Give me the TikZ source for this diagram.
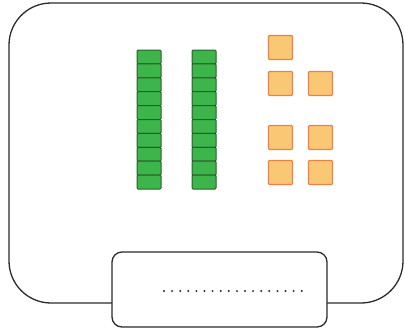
\documentclass[tikz,border=0pt]{standalone}
\usetikzlibrary{calc}
\definecolor{framecolor}{HTML}{2B2B2B}
\definecolor{rodfill}{HTML}{3DB54A}
\definecolor{roddraw}{HTML}{2A5E2B}
\definecolor{unitfill}{HTML}{FAC874}
\definecolor{unitdraw}{HTML}{EE8048}

\begin{document}
\begin{tikzpicture}[
  x=1pt, y=-1pt,
  frame/.style={draw=framecolor, line width=1.3pt},
  rodseg/.style={draw=roddraw, fill=rodfill, line width=1pt,
    minimum width=24pt, minimum height=13.9pt, inner sep=0pt, rounded corners=1pt},
  unitbox/.style={draw=unitdraw, fill=unitfill, line width=1.2pt,
    minimum size=24pt, inner sep=0pt, rounded corners=1pt}
]
  \useasboundingbox (0,0) rectangle (405,333);

  % outer board
  \draw[frame, rounded corners=42pt] (9,3) rectangle (403,303);

  % answer box
  \draw[frame, fill=white, rounded corners=10pt] (112,252) rectangle (327,327);
  \coordinate (dotL) at (164,291);
  \coordinate (dotR) at (302,291);
  \draw[framecolor, line width=2.2pt, line cap=round, dash pattern=on 0pt off 8.1pt]
    (dotL)--(dotR);

  % two rods of ten
  \foreach \r/\x in {1/149, 2/204}{
    \foreach \k in {1,...,10}{
      \node[rodseg] (rod\r-\k) at (\x, {50+13.9*(\k-0.5)}) {};
    }
  }

  % loose units
  \foreach \n/\x/\y in {a/280.5/47.5, b/280.5/83.5, c/320.5/83.5,
                        d/280.5/137.5, e/320.5/137.5,
                        f/280.5/172.5, g/320.5/172.5}{
    \node[unitbox] (unit-\n) at (\x,\y) {};
  }
\end{tikzpicture}
\end{document}
